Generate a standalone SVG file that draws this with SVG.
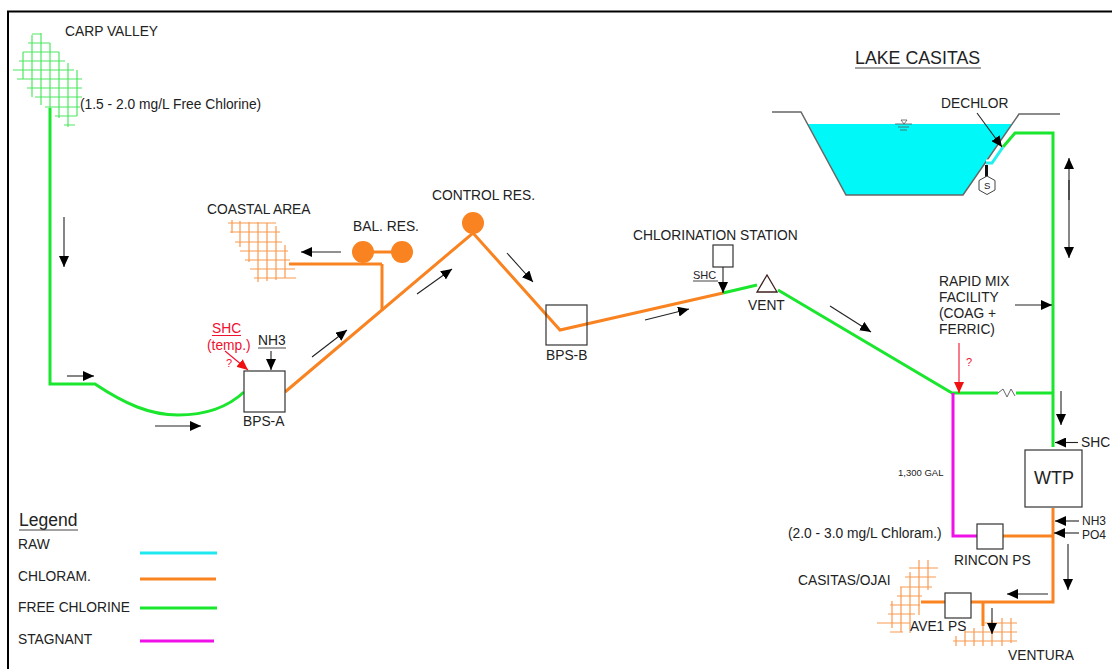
<svg xmlns="http://www.w3.org/2000/svg" width="1112" height="669" viewBox="0 0 1112 669">
<style>
text{font-family:"Liberation Sans",Arial,sans-serif;font-size:13.800px;fill:#222}
.red{fill:#f01030}
.g{fill:none;stroke:#1be62e;stroke-width:3}
.o{fill:none;stroke:#f98320;stroke-width:3}
.m{fill:none;stroke:#f010e8;stroke-width:3}
.c{fill:none;stroke:#20e8f0;stroke-width:3}
.hg{fill:none;stroke:#4ce860;stroke-width:1.2}
.ho{fill:none;stroke:#fa9a50;stroke-width:1.2}
.box{fill:#fff;stroke:#333;stroke-width:1.2}
.a{fill:none;stroke:#222;stroke-width:1.1;marker-end:url(#ah)}
.ar{fill:none;stroke:#f01030;stroke-width:1.1;marker-end:url(#ahr)}
.ul{stroke:#444;stroke-width:1;fill:none}
.gr{fill:none;stroke:#666;stroke-width:1.5}
</style>
<defs>
<marker id="ah" viewBox="0 0 11 10" refX="11" refY="5" markerUnits="userSpaceOnUse" markerWidth="11" markerHeight="10" orient="auto"><path d="M0 0L11 5L0 10Z" fill="#000"/></marker>
<marker id="ahr" viewBox="0 0 11 10" refX="11" refY="5" markerUnits="userSpaceOnUse" markerWidth="11" markerHeight="10" orient="auto"><path d="M0 0L11 5L0 10Z" fill="#f01010"/></marker>
</defs>
<rect width="1112" height="669" fill="#fff"/>
<path d="M8 669V11.500H1112" fill="none" stroke="#000" stroke-width="2"/>

<g id="carp-valley">
<path class="hg" d="M23 52V79M32 35V97M41 33V105M50 43V110M59 52V118M68 63V127M77 70V116M32 34H41M28 43H50M23 52H59M19 61H65M13 70H74M17 79H82M27 88H82M35 97H82M45 107H80M55 116H77M64 125H75"/>
<text x="65" y="36">CARP VALLEY</text>
<text x="80" y="109">(1.5 - 2.0 mg/L Free Chlorine)</text>
</g>
<g id="coastal-area">
<path class="ho" d="M232 220V233M240 221V247M249 222V262M258 222V282M267 223V281M276 226V280M285 245V278M228 223H276M230 232H280M235 242H282M240 251H288M245 260H290M250 269H295M254 278H296"/>
<text x="207" y="214">COASTAL AREA</text>
</g>
<g id="casitas-ojai">
<path class="ho" d="M892 601V628M901 587V632M910 572V633M919 560V615M928 560V590M909 568H938M905 577H936M900 587H932M897 596H922M890 605H920M888 614H915M877 623H910M890 632H903"/>
<text x="798" y="585">CASITAS/OJAI</text>
</g>
<g id="ventura">
<path class="ho" d="M956 636V646M965 630V646M974 628V646M983 625V646M992 620V646M1002 618V646M1011 618V643M985 623H1017M965 632H1017M953 641H1017"/>
<text x="1008" y="660">VENTURA</text>
</g>

<g id="bps-b-box-back">
<rect x="546" y="305" width="41" height="40" fill="#fff"/>
</g>
<g id="connectors">
<path class="g" d="M50 108V384H95C125 404 150 415 178 415C205 415 228 407 244 392"/>
<path class="o" d="M285 392L473 233L560 330L723 293"/>
<path class="o" d="M382 311V264M289 264H382M363 252H402"/>
<path class="g" d="M723 293L757 285M778 290L952 393H998M1016 393H1053"/>
<path class="gr" style="stroke-width:1" d="M998 393L1003 389L1007 397L1011 389L1015 396"/>
<path class="g" d="M1053 447V133H1015L1003 147"/>
<path class="m" d="M953 393V536H977"/>
<path class="o" d="M1003 536H1053M1053 508V602H971M945 602H921M983 602V626"/>
</g>

<g id="lake-casitas">
<path d="M808 124H1012L963 195H846Z" fill="#00f8f8"/>
<path class="gr" d="M772 112H801L846 195H963L1019 114H1060"/>
<path d="M1003 147L992 163H986" fill="none" stroke="#fff" stroke-width="7"/>
<path d="M1003 147L992 163H986" fill="none" stroke="#20f0f0" stroke-width="3"/>
<path d="M895 124H912M898 127H909M900 130H907" stroke="#555" fill="none" stroke-width=".8"/>
<path d="M901 120H907L904 124Z" fill="none" stroke="#555" stroke-width=".8"/>
<text x="855" y="64" style="font-size:17.800px">LAKE CASITAS</text>
<path class="ul" d="M855 68H981"/>
<text x="941" y="108">DECHLOR</text>
<path class="a" d="M977 113L1002 147"/>
<path d="M986.500 165V177" stroke="#111" stroke-width="3"/>
<path d="M987 176L995 180.500V190L987 194.500L979 190V180.500Z" fill="#fff" stroke="#444"/>
<text x="984" y="189" style="font-size:9.500px">S</text>
</g>

<g id="bal-res">
<circle cx="363" cy="252" r="11" fill="#f98320"/>
<circle cx="402" cy="252" r="11" fill="#f98320"/>
<text x="353" y="231">BAL. RES.</text>
</g>
<g id="control-res">
<circle cx="473" cy="223" r="11" fill="#f98320"/>
<text x="432" y="200">CONTROL RES.</text>
</g>
<g id="bps-a">
<rect class="box" x="244" y="371" width="41" height="41"/>
<text x="243" y="426">BPS-A</text>
<text x="258" y="345">NH3</text>
<path class="ul" d="M258 348H286"/>
<path class="a" d="M271 351V370"/>
<text class="red" x="212" y="333">SHC</text>
<path d="M212 335.500H241" stroke="#f01030" stroke-width="1"/>
<text class="red" x="207" y="350">(temp.)</text>
<text class="red" x="226" y="367" style="font-size:11px">?</text>
<path class="ar" d="M225 351L248 370"/>
</g>
<g id="bps-b">
<rect x="546" y="305" width="41" height="40" fill="none" stroke="#333" stroke-width="1.2"/>
<text x="546" y="360">BPS-B</text>
</g>
<g id="chlorination-station">
<rect class="box" x="713" y="245" width="20" height="22"/>
<text x="633" y="240">CHLORINATION STATION</text>
<text x="693" y="279" style="font-size:11px">SHC</text>
<path class="ul" d="M693 281H718"/>
<path class="a" d="M723 267V293"/>
</g>
<g id="vent">
<path d="M757 292L767 275L777 292Z" fill="#fff" stroke="#402020" stroke-width="1.3"/>
<text x="748" y="310">VENT</text>
</g>
<g id="rapid-mix">
<text x="939" y="286">RAPID MIX</text>
<text x="939" y="302">FACILITY</text>
<text x="939" y="318">(COAG +</text>
<text x="939" y="334">FERRIC)</text>
<path class="a" d="M1015 305H1052"/>
<path class="ar" d="M959 343V393"/>
<text class="red" x="966" y="366" style="font-size:11px">?</text>
</g>
<g id="wtp">
<rect class="box" x="1025" y="450" width="57" height="57"/>
<text x="1034" y="484" style="font-size:18px">WTP</text>
<text x="1081" y="447">SHC</text>
<path class="a" d="M1078 442.500H1055"/>
<text x="1082" y="524.500" style="font-size:12px">NH3</text>
<path class="a" d="M1079 521H1055"/>
<text x="1082" y="538.500" style="font-size:12px">PO4</text>
<path class="a" d="M1079 533H1054"/>
<text x="898" y="476" style="font-size:9.500px">1,300 GAL</text>
</g>
<g id="rincon-ps">
<rect class="box" x="977" y="524" width="26" height="25"/>
<text x="954" y="565">RINCON PS</text>
<text x="788" y="538">(2.0 - 3.0 mg/L Chloram.)</text>
</g>
<g id="ave1-ps">
<rect class="box" x="945" y="593" width="26" height="25"/>
<text x="910" y="631">AVE1 PS</text>
</g>

<g id="flow-arrows">
<path class="a" d="M64 217V267"/>
<path class="a" d="M67 376H94"/>
<path class="a" d="M155 426H201"/>
<path class="a" d="M312 357L347 330"/>
<path class="a" d="M417 294L452 269"/>
<path class="a" d="M341 252H301"/>
<path class="a" d="M507 253L533 282"/>
<path class="a" d="M645 320L689 309"/>
<path class="a" d="M830 306L871 332"/>
<path class="a" d="M1069 200V158"/>
<path class="a" d="M1069 180V258"/>
<path class="a" d="M1061 391V425"/>
<path class="a" d="M1068 544V590"/>
<path class="a" d="M1048 594H1007"/>
<path class="a" d="M992 608V634"/>
</g>

<g id="legend">
<text x="19" y="526" style="font-size:17.500px">Legend</text>
<path class="ul" d="M19 530H78"/>
<text x="18" y="549">RAW</text>
<path class="c" d="M140 553H217"/>
<text x="18" y="581">CHLORAM.</text>
<path class="o" d="M140 579H216"/>
<text x="18" y="612">FREE CHLORINE</text>
<path class="g" d="M140 608H217"/>
<text x="18" y="644">STAGNANT</text>
<path class="m" d="M140 641H214"/>
</g>
</svg>
